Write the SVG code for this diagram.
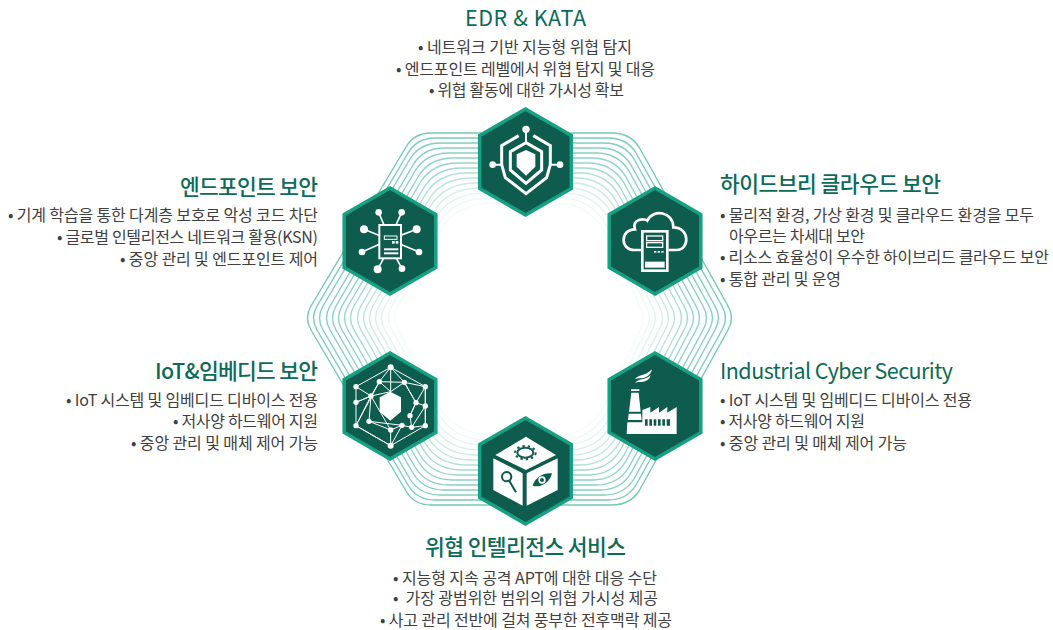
<svg xmlns="http://www.w3.org/2000/svg" width="1053" height="630" viewBox="0 0 1053 630">
<style>
text{font-family:"Noto Sans CJK KR","Noto Sans",sans-serif}
.t{font-size:21.5px;font-weight:500;fill:#0c6b58}
.e{font-size:21.5px;font-weight:400;fill:#0c6b58}
.b{font-size:16px;font-weight:400;fill:#404040}
.h{fill:#0d5c4d;stroke:#17a084;stroke-width:3.5}
.l{fill:none;stroke:#74c9b4;stroke-width:1.4}
.w{fill:#fff}
.s{fill:none;stroke:#fff;stroke-linejoin:miter}
.d{fill:#0d5c4d}
</style>
<defs><polygon id="hex" class="h" points="0,-53 45.8,-26.5 45.8,26.5 0,53 -45.8,26.5 -45.8,-26.5"/></defs>
<g id="connectors">
<path class="l" opacity="1" d="M526,133H431Q414,133 406,147L311,306Q304,318 311,330L406,491Q414,505 431,505H526M526,133H612Q630,133 639,147L728,306Q735,318 728,330L639,491Q630,505 612,505H526"/>
<path class="l" opacity=".95" d="M526,138H435Q417,138 408,153L317,306Q310,318 317,330L408,485Q417,500 435,500H526M526,138H608Q627,138 636,153L722,306Q729,318 722,330L636,485Q627,500 608,500H526"/>
<path class="l" opacity=".9" d="M526,143H440Q420,143 410,159L323,306Q316,318 323,330L410,479Q420,495 440,495H526M526,143H604Q624,143 634,159L715,306Q722,318 715,330L634,479Q624,495 604,495H526"/>
<path class="l" opacity=".88" d="M526,148H444Q423,148 413,165L330,306Q323,318 330,330L413,473Q423,490 444,490H526M526,148H600Q621,148 631,165L709,306Q716,318 709,330L631,473Q621,490 600,490H526"/>
<path class="l" opacity=".85" d="M526,153H449Q426,153 415,171L336,306Q329,318 336,330L415,467Q426,485 449,485H526M526,153H596Q618,153 629,171L703,306Q710,318 703,330L629,467Q618,485 596,485H526"/>
<path class="l" opacity=".82" d="M526,158H453Q429,158 418,177L342,306Q335,318 342,330L418,461Q429,480 453,480H526M526,158H592Q615,158 626,177L696,306Q703,318 696,330L626,461Q615,480 592,480H526"/>
<path class="l" opacity=".75" d="M526,163H458Q432,163 420,183L348,306Q341,318 348,330L420,455Q432,475 458,475H526M526,163H588Q612,163 624,183L690,306Q697,318 690,330L624,455Q612,475 588,475H526"/>
<path class="l" opacity=".68" d="M526,168H462Q435,168 423,189L354,306Q347,318 354,330L423,449Q435,470 462,470H526M526,168H584Q609,168 621,189L684,306Q691,318 684,330L621,449Q609,470 584,470H526"/>
<path class="l" opacity=".58" d="M526,173H467Q438,173 425,195L361,306Q354,318 361,330L425,443Q438,465 467,465H526M526,173H580Q606,173 619,195L678,306Q685,318 678,330L619,443Q606,465 580,465H526"/>
<path class="l" opacity=".48" d="M526,178H471Q441,178 428,201L367,306Q360,318 367,330L428,437Q441,460 471,460H526M526,178H576Q603,178 616,201L671,306Q678,318 671,330L616,437Q603,460 576,460H526"/>
<path class="l" opacity=".38" d="M526,183H476Q444,183 430,207L373,306Q366,318 373,330L430,431Q444,455 476,455H526M526,183H572Q600,183 614,207L665,306Q672,318 665,330L614,431Q600,455 572,455H526"/>
<path class="l" opacity=".28" d="M526,188H480Q447,188 433,213L379,306Q372,318 379,330L433,425Q447,450 480,450H526M526,188H568Q597,188 611,213L659,306Q666,318 659,330L611,425Q597,450 568,450H526"/>
<path class="l" opacity=".2" d="M526,193H485Q450,193 435,219L385,306Q378,318 385,330L435,419Q450,445 485,445H526M526,193H564Q594,193 609,219L652,306Q659,318 652,330L609,419Q594,445 564,445H526"/>
<path class="l" opacity=".13" d="M526,198H489Q453,198 438,225L392,306Q385,318 392,330L438,413Q453,440 489,440H526M526,198H560Q591,198 606,225L646,306Q653,318 646,330L606,413Q591,440 560,440H526"/>
<path class="l" opacity=".07" d="M526,203H494Q456,203 440,231L398,306Q391,318 398,330L440,407Q456,435 494,435H526M526,203H556Q588,203 604,231L640,306Q647,318 640,330L604,407Q588,435 556,435H526"/>
</g>
<g id="node-edr">
<use href="#hex" x="525.5" y="162"/>
<g transform="translate(476,105) scale(.3333)">
<path class="w" d="M150,135L178,148V185L150,212L122,185V148Z"/>
<path class="s" stroke-width="9" d="M150,113L197,140V195L150,235L103,195V140Z"/>
<path class="s" stroke-width="9" d="M128,92L77,122V179L88,218L150,266L212,218L223,179V122L172,92"/>
<path class="s" stroke-width="6" d="M150,73V112M50,179H80M252,179H220"/>
<circle class="w" cx="150" cy="73" r="11"/><circle class="w" cx="50" cy="179" r="10"/><circle class="w" cx="252" cy="179" r="10"/>
</g>
</g>
<g id="node-endpoint">
<use href="#hex" x="390" y="241"/>
<g transform="translate(300,90) scale(.3333)">
<path class="s" stroke-width="5" d="M236,367L252,405M305,367L288,405M192,418L240,437M350,418L300,437M186,486L240,462M357,486L300,462M233,538L252,503M306,536L288,503"/>
<circle class="w" cx="236" cy="367" r="10"/><circle class="w" cx="305" cy="367" r="10"/><circle class="w" cx="192" cy="418" r="12"/><circle class="w" cx="350" cy="418" r="12"/><circle class="w" cx="186" cy="486" r="10"/><circle class="w" cx="357" cy="486" r="10"/><circle class="w" cx="233" cy="538" r="12"/><circle class="w" cx="306" cy="536" r="10"/>
<rect class="d" x="238" y="405" width="65" height="100" stroke="#fff" stroke-width="6"/>
<rect x="253" y="438" width="38" height="10" fill="none" stroke="#fff" stroke-width="3"/>
<rect class="w" x="276" y="453" width="8" height="8"/><rect class="w" x="287" y="453" width="8" height="8"/>
<rect class="w" x="252" y="475" width="43" height="6"/><rect class="w" x="252" y="487" width="43" height="6"/>
</g>
</g>
<g id="node-cloud">
<use href="#hex" x="655" y="241"/>
<g transform="translate(530,90) scale(.3333)">
<path class="s" stroke-width="8" d="M333,480H312C270,480 270,418 315,418C305,385 345,385 352,392C370,355 430,365 430,412C480,412 480,480 440,480H416"/>
<rect class="w" x="333" y="420" width="83" height="126"/>
<rect class="d" x="341" y="428" width="67" height="110"/>
<rect class="w" x="345" y="515" width="59" height="18"/>
<rect x="350" y="438" width="48" height="14" fill="none" stroke="#fff" stroke-width="4"/>
<rect x="350" y="458" width="48" height="14" fill="none" stroke="#fff" stroke-width="4"/>
<rect class="w" x="372" y="483" width="7" height="5"/><rect class="w" x="383" y="483" width="7" height="5"/><rect class="w" x="394" y="483" width="7" height="5"/>
</g>
</g>
<g id="node-iot">
<use href="#hex" x="390" y="406"/>
<g transform="translate(341,350) scale(.3333)">
<path class="s" stroke-width="3" d="M149,52L45,110V227L149,287L253,227V110ZM149,52V125M149,52L115,95L90,138L45,157M149,52L190,97L225,158L253,168M115,95L190,97L149,125L90,138M115,95L149,125M190,97L253,110M190,97L225,158L207,197M253,110L225,158L207,197M45,110L90,138L84,214M45,157L90,138L45,227M90,138L149,240L149,287M84,214L149,240L183,226L149,287M84,214L183,226M45,227L149,287M45,227L115,95M253,168L212,232L253,227M212,232L207,197M183,226L212,232M253,110L253,227"/>
<path class="w" d="M148,125L180,142V185L148,212L116,185V142Z"/>
<g class="w"><circle cx="149" cy="52" r="9"/><circle cx="45" cy="110" r="8"/><circle cx="115" cy="95" r="8"/><circle cx="190" cy="97" r="8"/><circle cx="253" cy="110" r="8"/><circle cx="45" cy="157" r="8"/><circle cx="90" cy="138" r="8"/><circle cx="225" cy="158" r="8"/><circle cx="253" cy="168" r="8"/><circle cx="207" cy="197" r="8"/><circle cx="84" cy="214" r="8"/><circle cx="149" cy="240" r="8"/><circle cx="183" cy="226" r="8"/><circle cx="212" cy="232" r="8"/><circle cx="45" cy="227" r="8"/><circle cx="253" cy="227" r="8"/><circle cx="149" cy="287" r="9"/></g>
</g>
</g>
<g id="node-ics">
<use href="#hex" x="655" y="406"/>
<g transform="translate(530,310) scale(.3333)">
<path class="w" d="M303,238H328V243H303ZM304,248H326L332,305H297ZM296,311H333L335,330H294ZM292,337H337V372H290ZM337,372V300L361,291V308L387,291V308L412,291V308L440,291V372Z"/>
<path class="d" d="M345,328H353V347H345ZM358,328H366V347H358ZM371,328H379V347H371ZM384,328H392V347H384ZM397,328H405V347H397ZM410,328H420V347H410Z"/>
<path class="w" d="M315,208C325,192 345,200 366,178C362,198 345,205 332,205C325,205 320,205 315,208ZM315,220C325,204 345,212 362,196C358,214 340,216 330,216C323,216 320,216 315,220Z"/>
</g>
</g>
<g id="node-intel">
<use href="#hex" x="525.5" y="471"/>
<g transform="translate(476,415) scale(.3333)">
<path class="w" d="M150,65L240,120L150,165L58,120ZM52,130L140,175V272L52,225ZM152,175L245,130V225L152,272Z"/>
<ellipse cx="148" cy="113" rx="24" ry="15" fill="none" stroke="#0d5c4d" stroke-width="6"/>
<ellipse cx="148" cy="113" rx="31" ry="20" fill="none" stroke="#0d5c4d" stroke-width="6" stroke-dasharray="7 9"/>
<circle cx="92" cy="185" r="14" fill="none" stroke="#0d5c4d" stroke-width="6"/>
<path d="M100,198L120,232" stroke="#0d5c4d" stroke-width="6" fill="none"/>
<path class="d" d="M170,212C178,185 205,172 228,175C222,202 195,220 170,212Z"/>
<circle class="w" cx="198" cy="195" r="11"/><circle class="d" cx="198" cy="195" r="6"/>
</g>
</g>
<g id="labels">
<text class="e" x="465" y="26" textLength="121">EDR &amp; KATA</text>
<text class="b" x="418" y="53" textLength="214">• 네트워크 기반 지능형 위협 탐지</text>
<text class="b" x="396" y="74.5" textLength="259">• 엔드포인트 레벨에서 위협 탐지 및 대응</text>
<text class="b" x="429" y="95.5" textLength="195">• 위협 활동에 대한 가시성 확보</text>
<text class="t" x="180" y="194.5" textLength="138">엔드포인트 보안</text>
<text class="b" x="8" y="220.5" textLength="310">• 기계 학습을 통한 다계층 보호로 악성 코드 차단</text>
<text class="b" x="57" y="242.5" textLength="261">• 글로벌 인텔리전스 네트워크 활용(KSN)</text>
<text class="b" x="120" y="264.5" textLength="198">• 중앙 관리 및 엔드포인트 제어</text>
<text class="t" x="720" y="192" textLength="221">하이드브리 클라우드 보안</text>
<text class="b" x="720" y="220.5" textLength="314">• 물리적 환경, 가상 환경 및 클라우드 환경을 모두</text>
<text class="b" x="729" y="241.5" textLength="136">아우르는 차세대 보안</text>
<text class="b" x="720" y="262.5" textLength="329">• 리소스 효율성이 우수한 하이브리드 클라우드 보안</text>
<text class="b" x="720" y="284.5" textLength="121">• 통합 관리 및 운영</text>
<text class="t" x="155" y="379" textLength="163">IoT&amp;임베디드 보안</text>
<text class="b" x="66" y="405.5" textLength="252">• IoT 시스템 및 임베디드 디바이스 전용</text>
<text class="b" x="173" y="426.5" textLength="145">• 저사양 하드웨어 지원</text>
<text class="b" x="131" y="448.5" textLength="187">• 중앙 관리 및 매체 제어 가능</text>
<text class="e" x="720" y="379" textLength="233">Industrial Cyber Security</text>
<text class="b" x="720" y="405.5" textLength="252">• IoT 시스템 및 임베디드 디바이스 전용</text>
<text class="b" x="720" y="426.5" textLength="145">• 저사양 하드웨어 지원</text>
<text class="b" x="720" y="448.5" textLength="187">• 중앙 관리 및 매체 제어 가능</text>
<text class="t" x="425" y="555" textLength="201">위협 인텔리전스 서비스</text>
<text class="b" x="393" y="583.5" textLength="264">• 지능형 지속 공격 APT에 대한 대응 수단</text>
<text class="b" x="393" y="603.5" textLength="265" xml:space="preserve">•  가장 광범위한 범위의 위협 가시성 제공</text>
<text class="b" x="380" y="625.5" textLength="292">• 사고 관리 전반에 걸쳐 풍부한 전후맥락 제공</text>
</g>
</svg>
